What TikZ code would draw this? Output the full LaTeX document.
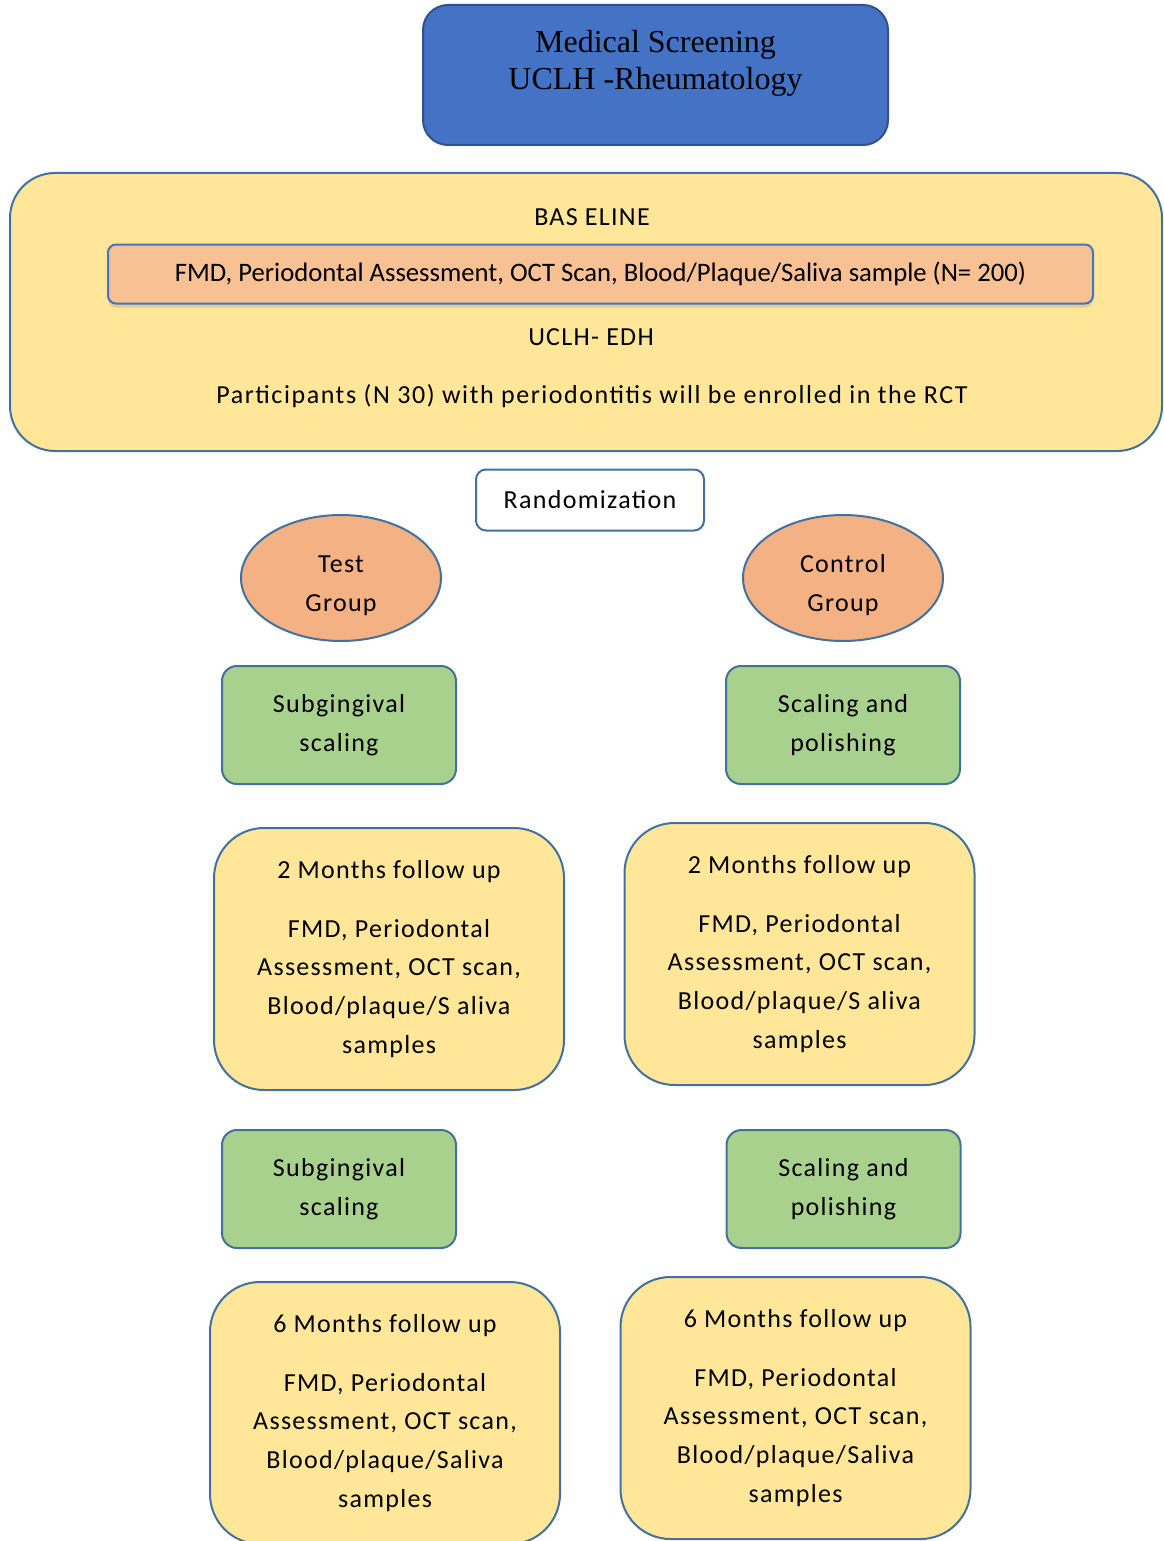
\documentclass[tikz,border=0pt]{standalone}
\usepackage{fontspec}
\setmainfont{Carlito}
\newfontfamily\boxfont[LetterSpace=5]{Carlito}
\newfontfamily\widefont[LetterSpace=6]{Carlito}
\newfontfamily\headfont{Liberation Serif}
\usetikzlibrary{shapes.geometric,shadows}

\definecolor{headblue}{RGB}{68,114,196}
\definecolor{headedge}{RGB}{47,82,143}
\definecolor{edgeblue}{RGB}{65,113,156}
\definecolor{paleyellow}{RGB}{255,230,153}
\definecolor{peach}{RGB}{248,193,148}
\definecolor{salmon}{RGB}{244,177,131}
\definecolor{leafgreen}{RGB}{169,209,142}

\tikzset{every picture/.style={line width=0.75pt}}
\tikzset{
  boxtext/.style={font=\boxfont\fontsize{19.5}{29}\selectfont, align=center, text=black, inner sep=0.75pt},
  headbox/.style={draw=headedge, fill=headblue, line width=1.5pt, rounded corners=18.75pt, minimum width=348.75pt, minimum height=105pt},
  headtext/.style={font=\headfont\fontsize{24}{27.75}\selectfont, align=center, text=black},
  basebox/.style={draw=edgeblue, fill=paleyellow, line width=1.5pt, rounded corners=33.75pt, minimum width=864pt, minimum height=208.5pt},
  peachbar/.style={font=\fontsize{20}{29}\selectfont, text=black, draw=headblue, fill=peach, line width=1.5pt, rounded corners=6pt, minimum width=738.75pt, minimum height=44.25pt, drop shadow={shadow xshift=0pt, shadow yshift=-3pt, opacity=0.25}},
  randbox/.style={boxtext, draw=edgeblue, fill=white, line width=1.5pt, rounded corners=7.5pt, minimum width=171pt, minimum height=45.75pt},
  groupell/.style={boxtext, ellipse, draw=edgeblue, fill=salmon, line width=1.5pt, minimum width=150pt, minimum height=94.5pt},
  greenbox/.style={boxtext, draw=edgeblue, fill=leafgreen, line width=1.5pt, rounded corners=11.25pt, minimum width=175.5pt, minimum height=88.5pt},
  followbox/.style={boxtext, draw=edgeblue, fill=paleyellow, line width=1.5pt, rounded corners=37.5pt, minimum width=262.5pt, minimum height=196.5pt}
}

\begin{document}
\begin{tikzpicture}[x=0.75pt,y=0.75pt,yscale=-1,xscale=1]
\useasboundingbox (0,0) rectangle (1163,1541);
\clip (0,0) rectangle (1163,1541);

%Shape: Rounded Rect (screening)
\node [headbox] (screen) at (655.5,75) {};
% Text Node
\node [headtext] (screentxt) at (655.5,63) {Medical Screening\\UCLH -Rheumatology};

%Shape: Rounded Rect (baseline)
\node [basebox] (base) at (586,312) {};
% Text Node
\node [boxtext] (basetitle) at (592,217) {BAS ELINE};
%Shape: Rounded Rect (measures)
\node [peachbar] (measures) at (600.5,274) {FMD, Periodontal Assessment, OCT Scan, Blood/Plaque/Saliva sample (N= 200)};
% Text Node
\node [boxtext] (edh) at (591,337) {UCLH- EDH};
% Text Node
\node [boxtext, font=\widefont\fontsize{19.5}{29}\selectfont] (enrol) at (592,396) {Participants (N 30) with periodontitis will be enrolled in the RCT};

%Shape: Rounded Rect (randomization)
\node [randbox] (rand) at (590,500) {Randomization};

%Shape: Ellipse
\node [groupell] (test) at (341,578) {\rule{0pt}{24pt}Test\\Group};
%Shape: Ellipse
\node [groupell] (control) at (843,578) {\rule{0pt}{24pt}Control\\Group};

%Shape: Rounded Rect (treatment, first round)
\node [greenbox] (testtx) at (339,725) {Subgingival\\scaling};
\node [greenbox] (controltx) at (843,725) {Scaling and\\polishing};

%Shape: Rounded Rect (2 months)
\node [followbox] (testtwo) at (389,959) {2 Months follow up\\[15pt]FMD, Periodontal\\Assessment, OCT scan,\\Blood/plaque/S aliva\\samples};
\node [followbox] (controltwo) at (799.5,954) {2 Months follow up\\[15pt]FMD, Periodontal\\Assessment, OCT scan,\\Blood/plaque/S aliva\\samples};

%Shape: Rounded Rect (treatment, second round)
\node [greenbox] (testtxb) at (339,1189) {Subgingival\\scaling};
\node [greenbox] (controltxb) at (843.5,1189) {Scaling and\\polishing};

%Shape: Rounded Rect (6 months)
\node [followbox] (testsix) at (385,1413) {6 Months follow up\\[15pt]FMD, Periodontal\\Assessment, OCT scan,\\Blood/plaque/Saliva\\samples};
\node [followbox] (controlsix) at (795.5,1408) {6 Months follow up\\[15pt]FMD, Periodontal\\Assessment, OCT scan,\\Blood/plaque/Saliva\\samples};

\end{tikzpicture}
\end{document}
